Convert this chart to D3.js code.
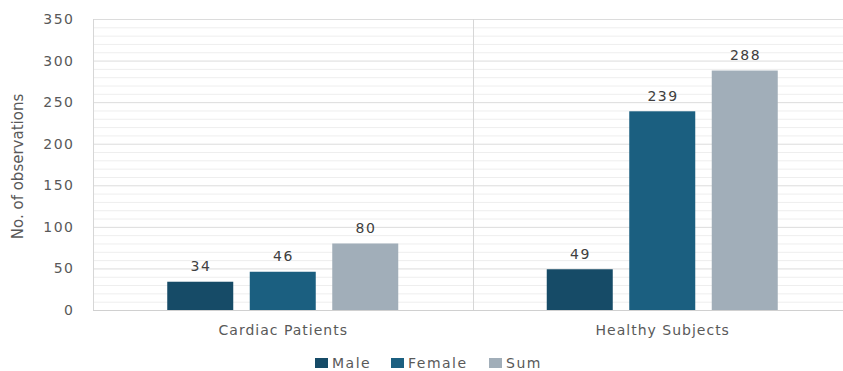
<!DOCTYPE html>
<html>
<head>
<meta charset="utf-8">
<script src="https://cdn.jsdelivr.net/npm/d3@7/dist/d3.min.js"></script>
<style>
  html, body { margin: 0; padding: 0; background: #ffffff; }
  svg text { font-family: "DejaVu Sans", "Liberation Sans", sans-serif; }
</style>
</head>
<body>
<svg id="chart" width="843" height="371"></svg>
<script>
// Observation counts per group and sex
const categories = ["Cardiac Patients", "Healthy Subjects"];
const seriesNames = ["Male", "Female", "Sum"];
const maleValues = [34, 49];
const femaleValues = [46, 239];
const sumValues = [80, 288];
const yTicks = [0, 50, 100, 150, 200, 250, 300, 350];
const colors = ["#164b67", "#1b5f80", "#a1aeb9"];

const seriesValues = [maleValues, femaleValues, sumValues];

const svg = d3.select("#chart");
const margin = { left: 93, right: -9, top: 19, bottom: 61 };
const W = 843, H = 371;
const x0 = margin.left, x1 = W - margin.right;
const yTop = margin.top, yBot = H - margin.bottom;

const x = d3.scaleBand().domain(categories).range([x0, x1]).paddingInner(0).paddingOuter(0);
const xs = d3.scaleBand().domain(seriesNames).range([0, x.bandwidth()]).paddingInner(0.2).paddingOuter(0.9);
const y = d3.scaleLinear().domain([0, 350]).range([yBot, yTop]);

// Minor gridlines every 10
const minor = d3.range(10, 351, 10).filter(v => v % 50 !== 0);
svg.append("g").selectAll("line").data(minor).join("line")
  .attr("x1", x0).attr("x2", x1)
  .attr("y1", d => y(d) + 0.5).attr("y2", d => y(d) + 0.5)
  .attr("stroke", "#eeeeee").attr("stroke-width", 1);

// Major gridlines every 50
svg.append("g").selectAll("line").data(yTicks.filter(v => v > 0)).join("line")
  .attr("x1", x0).attr("x2", x1)
  .attr("y1", d => y(d) + 0.5).attr("y2", d => y(d) + 0.5)
  .attr("stroke", "#dcdcdc").attr("stroke-width", 1);

// Category dividers
svg.append("g").selectAll("line").data(categories).join("line")
  .attr("x1", d => Math.round(x(d)) + 0.5).attr("x2", d => Math.round(x(d)) + 0.5)
  .attr("y1", yTop).attr("y2", yBot)
  .attr("stroke", "#d6d6d6").attr("stroke-width", 1);

// Bars with value labels
const groups = svg.append("g").selectAll("g").data(categories).join("g")
  .attr("transform", d => `translate(${x(d)},0)`);

groups.each(function(cat, ci) {
  const g = d3.select(this);
  seriesNames.forEach((s, si) => {
    const v = seriesValues[si][ci];
    g.append("rect")
      .attr("x", xs(s)).attr("width", xs.bandwidth())
      .attr("y", y(v)).attr("height", y(0) - y(v))
      .attr("fill", colors[si]);
    g.append("text")
      .attr("x", xs(s) + xs.bandwidth() / 2 + 0.75)
      .attr("y", y(v) - 10.5)
      .attr("text-anchor", "middle")
      .attr("font-size", 14)
      .attr("letter-spacing", 1.5)
      .attr("fill", "#404040")
      .text(v);
  });
});

// Baseline
svg.append("line")
  .attr("x1", x0).attr("x2", x1)
  .attr("y1", yBot + 0.5).attr("y2", yBot + 0.5)
  .attr("stroke", "#d0d0d0").attr("stroke-width", 1.2);

// Y axis tick labels
svg.append("g").selectAll("text").data(yTicks).join("text")
  .attr("x", 74.5).attr("y", d => y(d) + 5)
  .attr("text-anchor", "end")
  .attr("font-size", 14)
  .attr("letter-spacing", 1.5)
  .attr("fill", "#595959")
  .text(d => d);

// Y axis title
svg.append("text")
  .attr("transform", `translate(23,${(yTop + yBot) / 2 + 2}) rotate(-90)`)
  .attr("text-anchor", "middle")
  .attr("font-family", "'Liberation Sans Narrow', 'Liberation Sans', sans-serif")
  .attr("font-size", 15)
  .attr("fill", "#595959")
  .text("No. of observations");

// Category labels
svg.append("g").selectAll("text").data(categories).join("text")
  .attr("x", d => x(d) + x.bandwidth() / 2 + 0.5)
  .attr("y", yBot + 25)
  .attr("text-anchor", "middle")
  .attr("font-size", 14)
  .attr("letter-spacing", 1)
  .attr("fill", "#595959")
  .text(d => d);

// Legend
const legendX = [315, 391, 489];
const legend = svg.append("g").selectAll("g").data(seriesNames).join("g")
  .attr("transform", (d, i) => `translate(${legendX[i]},358)`);
legend.append("rect").attr("width", 13).attr("height", 10).attr("fill", (d, i) => colors[i]);
legend.append("text")
  .attr("x", 17).attr("y", 10)
  .attr("font-size", 14)
  .attr("letter-spacing", 1.5)
  .attr("fill", "#595959")
  .text(d => d);
</script>
</body>
</html>
